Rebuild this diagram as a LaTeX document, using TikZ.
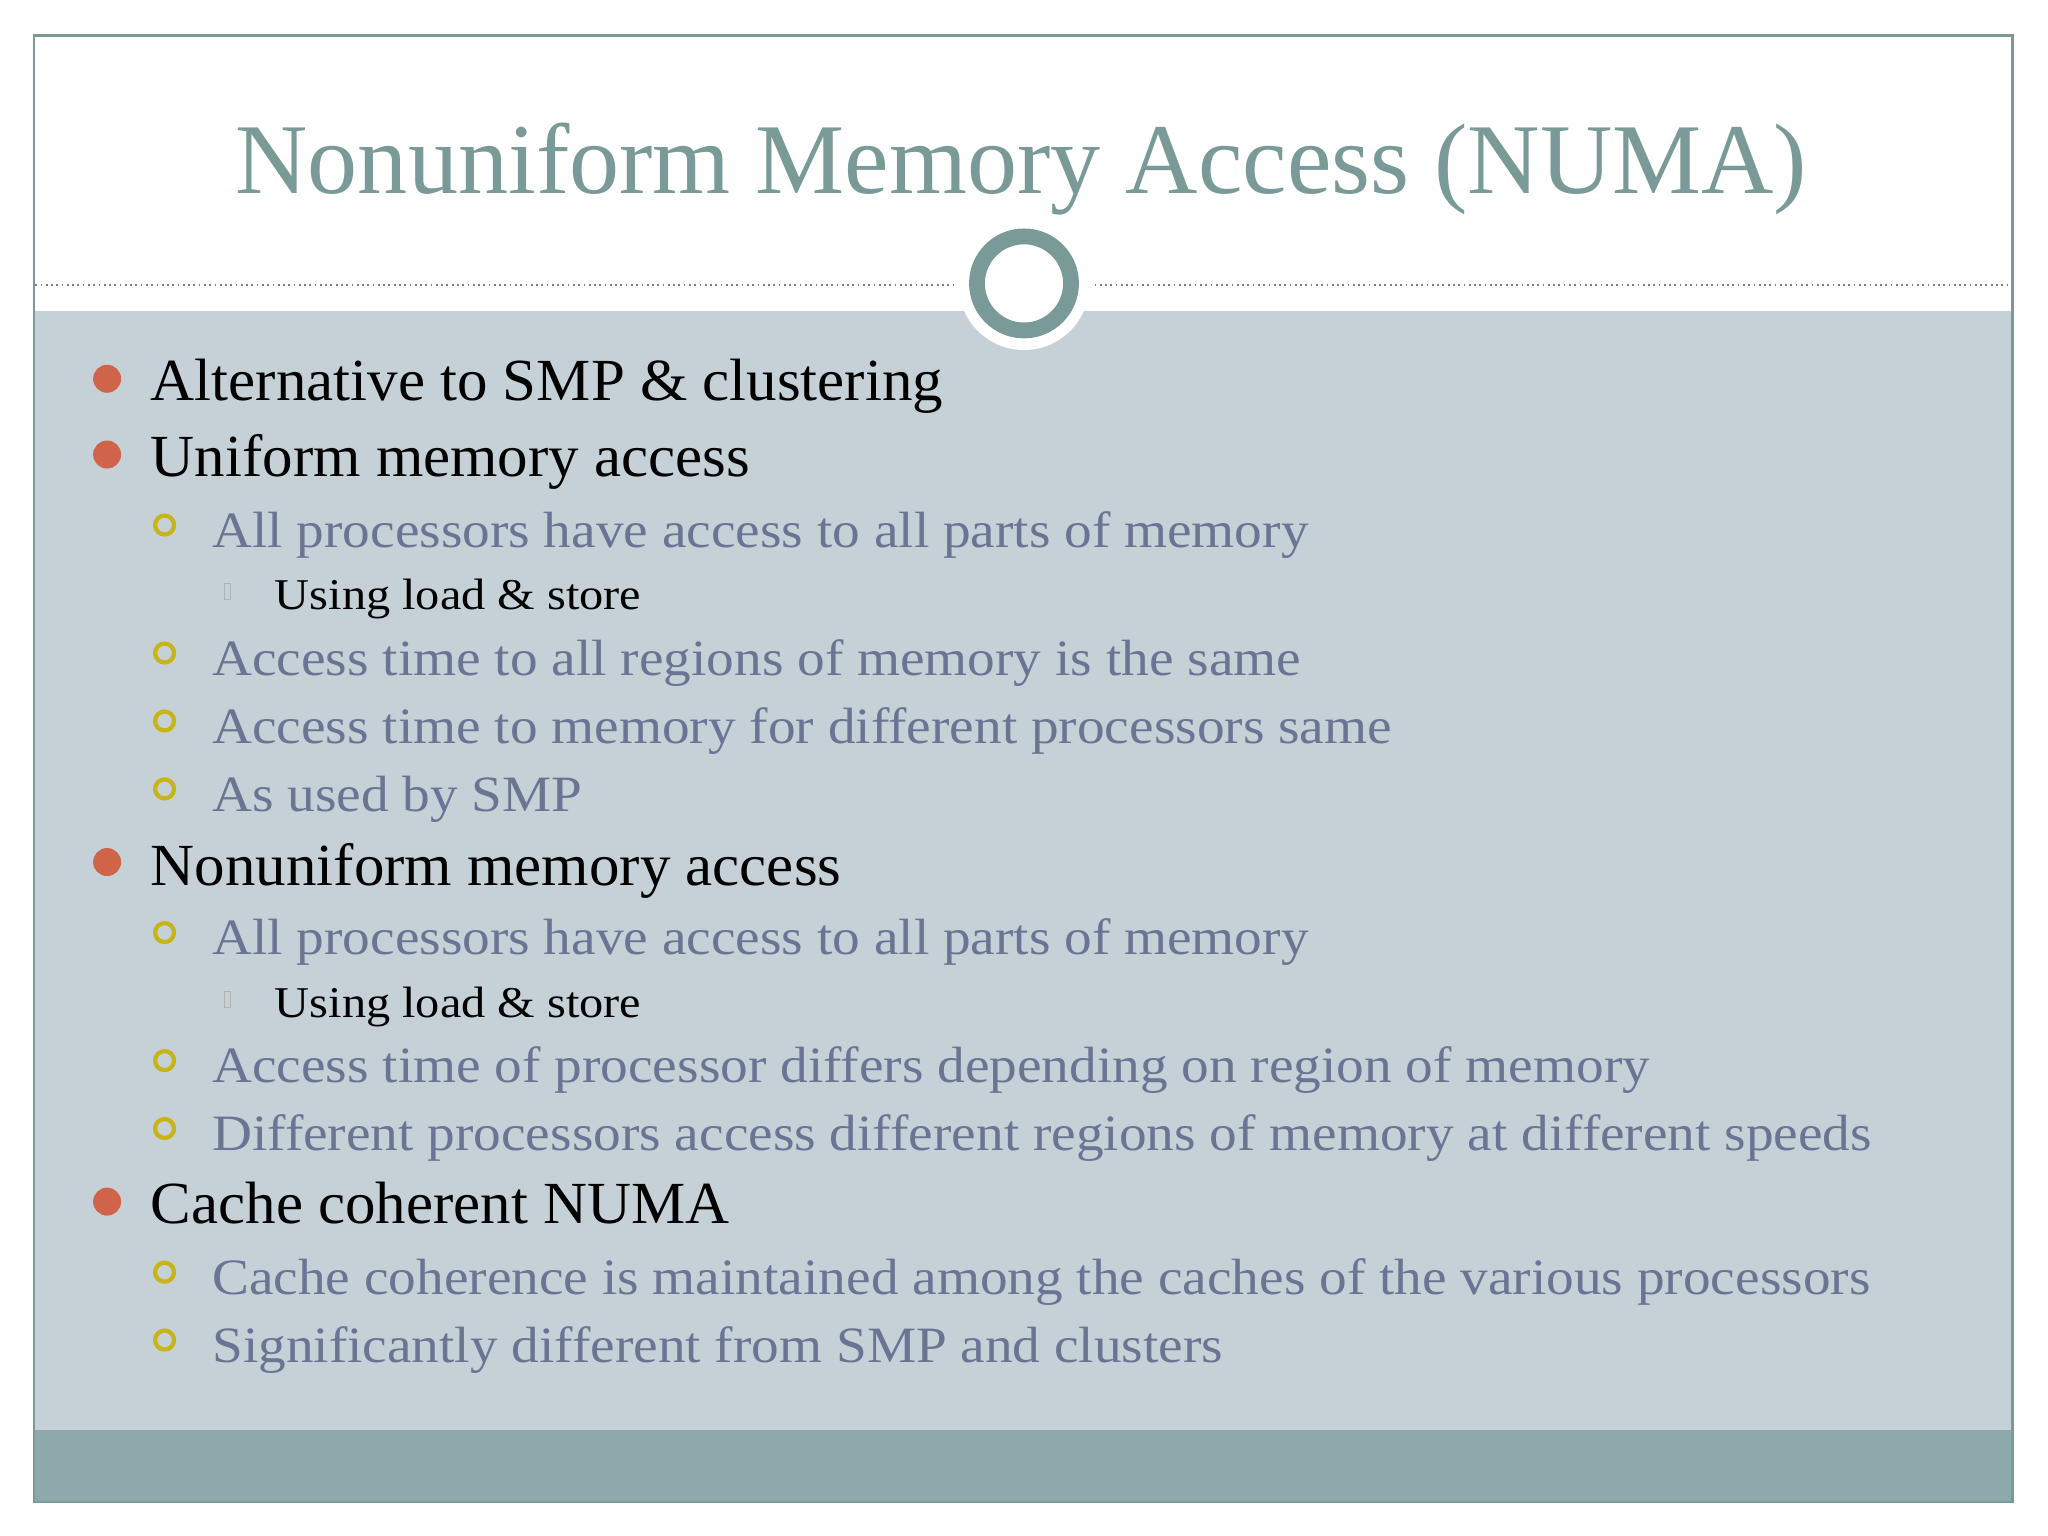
\documentclass[tikz,border=0pt]{standalone}
\usepackage{fontspec}
\setmainfont{Liberation Serif}
\definecolor{titlec}{HTML}{7A9A98}
\definecolor{bgc}{HTML}{C5D1D7}
\definecolor{barc}{HTML}{8DA9AB}
\definecolor{redc}{HTML}{D0644A}
\definecolor{slatec}{HTML}{6C7494}
\definecolor{yelc}{HTML}{C8B416}
\newcommand{\sxa}[1]{\scalebox{1.02}[1]{#1}}
\newcommand{\sxb}[1]{\scalebox{1.085}[1]{#1}}
\newcommand{\sxc}[1]{\scalebox{1.1}[1]{#1}}
\begin{document}
\begin{tikzpicture}[x=0.013061cm,y=-0.013061cm,
  l1/.style={anchor=base west,inner sep=0,font=\fontsize{17}{20}\selectfont,text=black},
  l2/.style={anchor=base west,inner sep=0,font=\fontsize{14.5}{17}\selectfont,text=slatec},
  l3/.style={anchor=base west,inner sep=0,font=\fontsize{12.5}{15}\selectfont,text=black},
  b1/.style={circle,fill=redc,inner sep=0,minimum size=0.28cm},
  b2/.style={circle,draw=yelc,line width=1.2pt,inner sep=0,minimum size=0.19cm},
  b3/.style={draw=black!30,line width=0.3pt,inner sep=0,minimum width=0.06cm,minimum height=0.16cm}]
\useasboundingbox (0,0) rectangle (1568,1176);
\fill[white] (0,0) rectangle (1568,1176);
\fill[bgc] (26,238) rectangle (1541,1095);
\fill[barc] (26,1095) rectangle (1541,1150);
\draw[titlec,line width=0.8pt] (26,27) rectangle (1541,1150);
\draw[black!50,densely dotted,line width=0.5pt] (27,218) -- (730,218);
\draw[black!50,densely dotted,line width=0.5pt] (838,218) -- (1540,218);
\fill[white] (784,218) circle (50);
\draw[titlec,line width=4.5pt] (784,217) circle (36);
\node[anchor=base,inner sep=0,text=titlec,font=\fontsize{28.5}{34}\selectfont] (title) at (782,148) {Nonuniform Memory Access (NUMA)};
\node[b1] (ba) at (82,290) {}; \node[l1] (ta) at (115,307) {\sxa{Alternative to SMP \& clustering}};
\node[b1] (bb) at (82,348) {}; \node[l1] (tb) at (115,365) {\sxa{Uniform memory access}};
\node[b2] (bc) at (126,402) {}; \node[l2] (tc) at (162,419) {\sxb{All processors have access to all parts of memory}};
\node[b3] (bd) at (174,453) {}; \node[l3] (td) at (210,467) {\sxc{Using load \& store}};
\node[b2] (be) at (126,500) {}; \node[l2] (te) at (162,517) {\sxb{Access time to all regions of memory is the same}};
\node[b2] (bf) at (126,552) {}; \node[l2] (tf) at (162,569) {\sxb{Access time to memory for different processors same}};
\node[b2] (bg) at (126,604) {}; \node[l2] (tg) at (162,621) {\sxb{As used by SMP}};
\node[b1] (bh) at (82,660) {}; \node[l1] (th) at (115,678) {\sxa{Nonuniform memory access}};
\node[b2] (bi) at (126,714) {}; \node[l2] (ti) at (162,731) {\sxb{All processors have access to all parts of memory}};
\node[b3] (bj) at (174,765) {}; \node[l3] (tj) at (210,779) {\sxc{Using load \& store}};
\node[b2] (bk) at (126,812) {}; \node[l2] (tk) at (162,829) {\sxb{Access time of processor differs depending on region of memory}};
\node[b2] (bl) at (126,864) {}; \node[l2] (tl) at (162,881) {\sxb{Different processors access different regions of memory at different speeds}};
\node[b1] (bm) at (82,920) {}; \node[l1] (tm) at (115,937) {\sxa{Cache coherent NUMA}};
\node[b2] (bn) at (126,974) {}; \node[l2] (tn) at (162,991) {\sxb{Cache coherence is maintained among the caches of the various processors}};
\node[b2] (bo) at (126,1026) {}; \node[l2] (to) at (162,1043) {\sxb{Significantly different from SMP and clusters}};
\end{tikzpicture}
\end{document}
